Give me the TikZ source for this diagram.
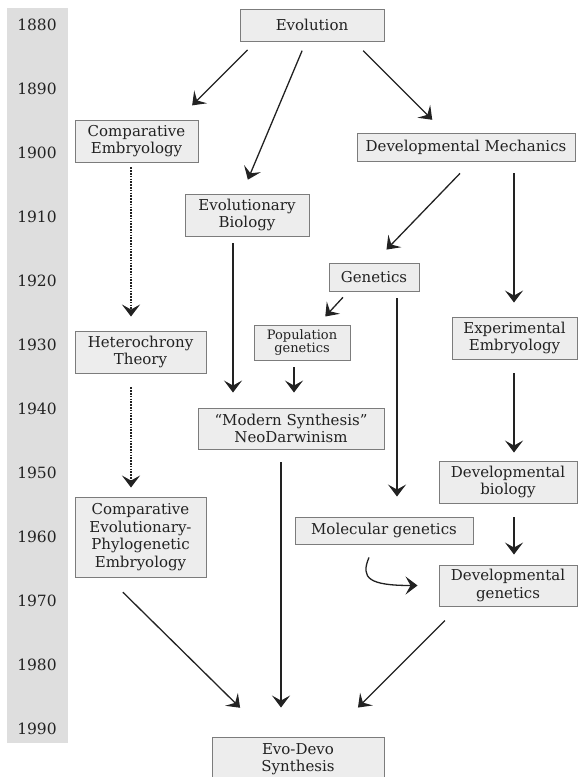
\documentclass[tikz,border=0pt]{standalone}
\usepackage{fontspec}
\setmainfont{DejaVu Serif}
\usetikzlibrary{arrows.meta,positioning}
\definecolor{BoxFill}{HTML}{EDEDED}
\definecolor{BoxLine}{HTML}{7C7C7C}
\definecolor{Strip}{HTML}{DEDEDE}
\definecolor{Ink}{HTML}{222222}

\begin{document}
\begin{tikzpicture}[x=1pt,y=-1pt,
  topic/.style={draw=BoxLine,fill=BoxFill,line width=0.9pt,align=center,text=Ink,inner sep=0pt,font=\fontsize{15}{17.5}\selectfont},
  small/.style={topic,font=\fontsize{13}{13.5}\selectfont},
  year/.style={text=Ink,font=\fontsize{15.5}{17}\selectfont},
  arr/.style={-{Stealth[length=12pt,width=18pt,inset=5pt]},line width=1.3pt,draw=Ink},
  dots/.style={arr,dash pattern=on 1.6pt off 1.2pt,line width=2.2pt}
]
\useasboundingbox (0,0) rectangle (578,777);
% time strip
\fill[Strip] (7,8) rectangle (68,743);
\node[year] (y1880) at (37,25) {1880};
\node[year] (y1890) at (37,89) {1890};
\node[year] (y1900) at (37,153) {1900};
\node[year] (y1910) at (37,217) {1910};
\node[year] (y1920) at (37,281) {1920};
\node[year] (y1930) at (37,345) {1930};
\node[year] (y1940) at (37,409) {1940};
\node[year] (y1950) at (37,473) {1950};
\node[year] (y1960) at (37,537) {1960};
\node[year] (y1970) at (37,601) {1970};
\node[year] (y1980) at (37,665) {1980};
\node[year] (y1990) at (37,729) {1990};

% fields
\node[topic,minimum width=144,minimum height=32] (evo) at (312,25) {Evolution};
\node[topic,minimum width=123,minimum height=42] (compemb) at (136.5,141) {Comparative\\Embryology};
\node[topic,minimum width=124,minimum height=42] (evobio) at (247,215) {Evolutionary\\Biology};
\node[topic,minimum width=218,minimum height=28] (devmech) at (466,147) {Developmental Mechanics};
\node[topic,minimum width=90,minimum height=28] (genetics) at (374,277) {Genetics};
\node[small,minimum width=96,minimum height=35] (popgen) at (302,342.5) {Population\\genetics};
\node[topic,minimum width=131,minimum height=42] (hetero) at (140.5,352) {Heterochrony\\Theory};
\node[topic,minimum width=125,minimum height=42] (expemb) at (514.5,338) {Experimental\\Embryology};
\node[topic,minimum width=186,minimum height=41] (modsyn) at (291,428.5) {``Modern Synthesis''\\NeoDarwinism};
\node[topic,minimum width=131,minimum height=80] (compevo) at (140.5,537) {Comparative\\Evolutionary-\\Phylogenetic\\Embryology};
\node[topic,minimum width=138,minimum height=42] (devbio) at (508,482) {Developmental\\biology};
\node[topic,minimum width=178,minimum height=27] (molgen) at (384,530.5) {Molecular genetics};
\node[topic,minimum width=138,minimum height=41] (devgen) at (508,585.5) {Developmental\\genetics};
\node[topic,minimum width=172,minimum height=44] (evodevo) at (298,759) {Evo-Devo\\Synthesis};

% links
\draw[arr,shorten <=12,shorten >=20] ([xshift=-56]evo.south) -- ([xshift=41.5]compemb.north);
\draw[arr,shorten <=10,shorten >=15] ([xshift=-6]evo.south) -- ([xshift=-5]evobio.north);
\draw[arr,shorten <=13,shorten >=18] ([xshift=42]evo.south) -- ([xshift=-21]devmech.north);
\draw[dots,shorten <=5,shorten >=14] ([xshift=-5.5]compemb.south) -- ([xshift=-9.5]hetero.north);
\draw[dots,shorten <=14,shorten >=9] ([xshift=-9.5]hetero.south) -- ([xshift=-9.5]compevo.north);
\draw[arr,shorten <=7,shorten >=15] ([xshift=-14]evobio.south) -- ([xshift=-58]modsyn.north);
\draw[arr,shorten <=7,shorten >=15] ([xshift=-8]popgen.south) -- ([xshift=3]modsyn.north);
\draw[arr,shorten <=8,shorten >=11] ([xshift=-25.6]genetics.south) -- ([xshift=15.8]popgen.north);
\draw[arr,shorten <=16.6,shorten >=18] ([xshift=5.5]devmech.south) -- (genetics.north);
\draw[arr,shorten <=12,shorten >=14] ([xshift=48]devmech.south) -- ([xshift=-0.5]expemb.north);
\draw[arr,shorten <=7,shorten >=20] ([xshift=23]genetics.south) -- ([xshift=13]molgen.north);
\draw[arr,shorten <=14,shorten >=8] ([xshift=-0.5]expemb.south) -- ([xshift=6]devbio.north);
\draw[arr,shorten <=14,shorten >=10] ([xshift=6]devbio.south) -- ([xshift=6]devgen.north);
\draw[arr] ([xshift=-15,yshift=-13]molgen.south) .. controls +(-9,21) and +(-48,0) .. ([xshift=-21]devgen.west);
\draw[arr,shorten <=13,shorten >=29] ([xshift=-10]modsyn.south) -- ([xshift=-17]evodevo.north);
\draw[arr,shorten <=21,shorten >=41] ([xshift=-32.6]compevo.south) -- ([xshift=-28.7]evodevo.north);
\draw[arr,shorten <=20,shorten >=41] ([xshift=-49]devgen.south) -- ([xshift=31]evodevo.north);
\end{tikzpicture}
\end{document}
